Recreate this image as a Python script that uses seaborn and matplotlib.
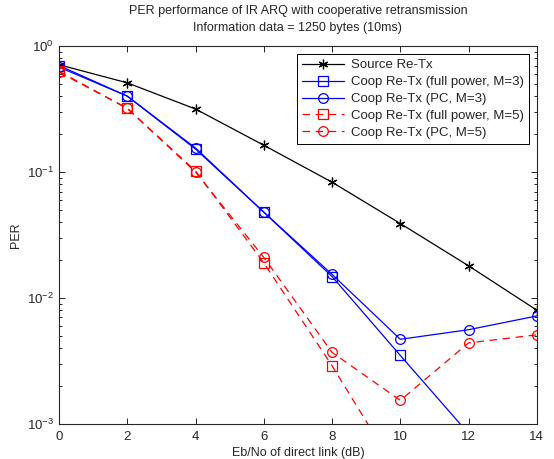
import matplotlib
matplotlib.use('Agg')
import matplotlib.pyplot as plt
import seaborn as sns
import numpy as np

snr = [0, 2, 4, 6, 8, 10, 12, 14]

source_retx = [0.71, 0.51, 0.316, 0.163, 0.083, 0.039, 0.018, 0.0080]
coop_full_m3 = [0.70, 0.40, 0.152, 0.048, 0.0148, 0.0035, 0.00084]
coop_pc_m3 = [0.68, 0.40, 0.155, 0.048, 0.0154, 0.0047, 0.0056, 0.0072]
coop_full_m5 = [0.63, 0.32, 0.102, 0.019, 0.0029, 0.00038]
coop_pc_m5 = [0.62, 0.32, 0.100, 0.021, 0.0037, 0.00154, 0.0044, 0.0051]

labels = ['Source Re-Tx',
          'Coop Re-Tx (full power, M=3)',
          'Coop Re-Tx (PC, M=3)',
          'Coop Re-Tx (full power, M=5)',
          'Coop Re-Tx (PC, M=5)']

sns.set_style('ticks')
plt.rcParams['font.family'] = ['Liberation Sans', 'DejaVu Sans']
plt.rcParams['xtick.direction'] = 'in'
plt.rcParams['ytick.direction'] = 'in'

fig = plt.figure(figsize=(5.54, 4.59), dpi=100)
ax = fig.add_axes([0.1065, 0.0763, 0.8625, 0.8235])

# asterisk marker like matlab '*'
star = (6, 2, 0)
series = [
    (source_retx, 'k', star, '-', 7),
    (coop_full_m3, 'b', 's', '-', 7),
    (coop_pc_m3, 'b', 'o', '-', 7),
    (coop_full_m5, 'r', 's', '--', 7),
    (coop_pc_m5, 'r', 'o', '--', 7),
]
for (vals, c, m, ls, ms), lab in zip(series, labels):
    sns.lineplot(x=snr[:len(vals)], y=vals, ax=ax, color=c, marker=m,
                 linewidth=0.9, markersize=ms,
                 markerfacecolor='none' if m != star else c,
                 markeredgecolor=c, markeredgewidth=0.9, label=lab)
    if ls == '--':
        ax.lines[-1].set_dashes((6, 4.5))

ax.set_yscale('log')
ax.set_xlim(0, 14)
ax.set_ylim(1e-3, 1)
ax.set_xticks(snr)
ax.tick_params(which='both', top=True, right=True, labelsize=9.5, width=0.7)
ax.tick_params(which='major', length=4)
ax.tick_params(which='minor', length=2)
ax.tick_params(axis='x', pad=5)
for s in ax.spines.values():
    s.set_linewidth(0.8)
    s.set_visible(True)

ax.set_xlabel('Eb/No of direct link (dB)', fontsize=9, labelpad=3)
ax.set_ylabel('PER', fontsize=9)
ax.set_title('PER performance of IR ARQ with cooperative retransmission\n'
             'Information data = 1250 bytes (10ms)', fontsize=9, pad=11,
             linespacing=1.55)

handles, labs = ax.get_legend_handles_labels()
leg = ax.legend(handles, labs, loc='upper right', fontsize=9.5, frameon=True,
                fancybox=False, edgecolor='k', framealpha=1,
                borderaxespad=0.6, handlelength=3.2, labelspacing=0.35,
                handletextpad=0.5)
leg.get_frame().set_linewidth(0.7)

fig.savefig('out.png', dpi=100)
